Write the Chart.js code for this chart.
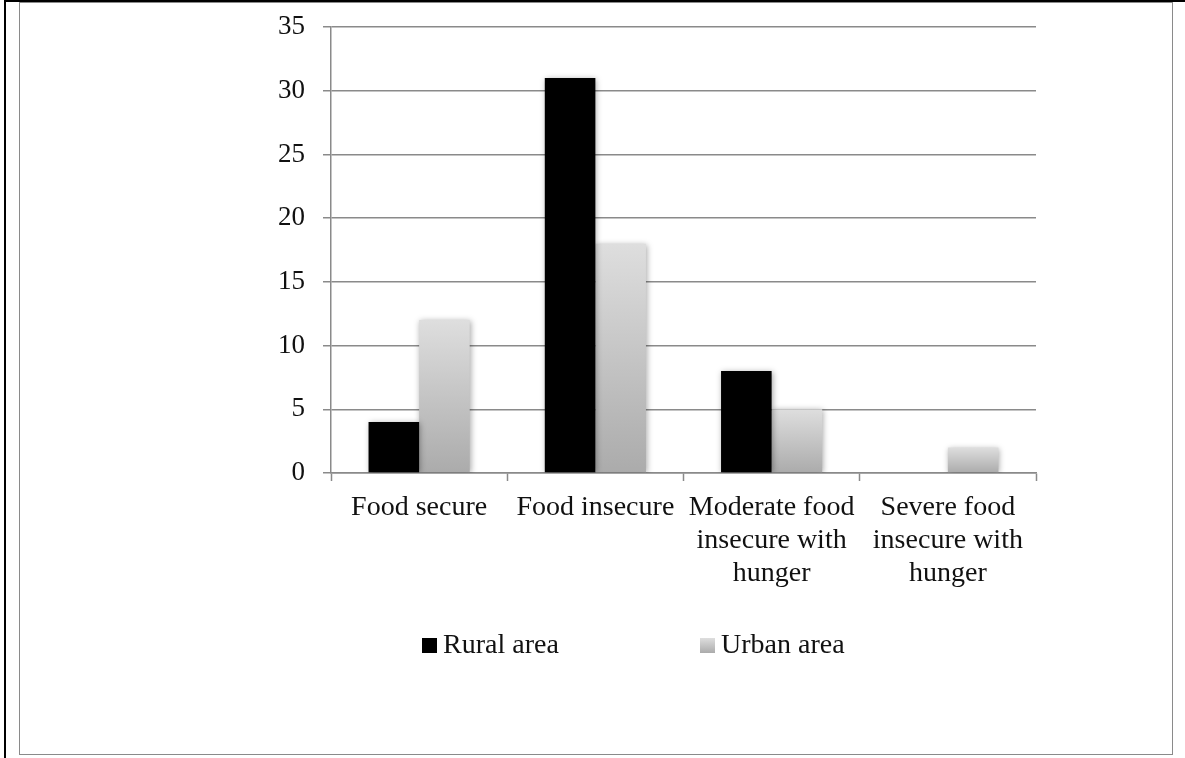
<!DOCTYPE html>
<html>
<head>
<meta charset="utf-8">
<script src="https://cdn.jsdelivr.net/npm/chart.js@4/dist/chart.umd.min.js"></script>
<style>
    html, body { margin: 0; padding: 0; background: #fff; }
    body { width: 1185px; height: 758px; position: relative; overflow: hidden; }
    .outer-line { position: absolute; left: 4px; top: 0; width: 1185px; height: 758px;
        border-left: 2px solid #000; border-top: 2px solid #000; box-sizing: border-box; }
    .frame { position: absolute; left: 19px; top: 2px; width: 1154px; height: 753px;
        border: 1.5px solid #8a8a8a; box-sizing: border-box; }
    #chart { position: absolute; left: 0; top: 0; }
</style>
</head>
<body>
<div class="outer-line"></div>
<div class="frame"></div>
<canvas id="chart" width="1185" height="758"></canvas>
<script>
// Chart data
const categories = [
    'Food secure',
    'Food insecure',
    ['Moderate food', 'insecure with', 'hunger'],
    ['Severe food', 'insecure with', 'hunger']
];
const seriesNames = ['Rural area', 'Urban area'];
const ruralValues = [4, 31, 8, 0];
const urbanValues = [12, 18, 5, 2];
const yTicks = [0, 5, 10, 15, 20, 25, 30, 35];

const FONT = "'Liberation Serif', 'Times New Roman', serif";
const gridColor = '#8a8a8a';

// Urban bars: light grey at the top fading darker toward the base, per bar
function urbanFill(ctx) {
    const chart = ctx.chart;
    const y = chart.scales.y;
    if (!y || ctx.parsed == null) return '#c8c8c8';
    const top = y.getPixelForValue(ctx.parsed.y);
    const base = y.getPixelForValue(0);
    if (!isFinite(top) || !isFinite(base) || top === base) return '#c8c8c8';
    const g = chart.ctx.createLinearGradient(0, top, 0, base);
    g.addColorStop(0, '#dedede');
    g.addColorStop(1, '#ababab');
    return g;
}

const barShadow = {
    id: 'barShadow',
    beforeDatasetsDraw(chart) {
        const c = chart.ctx;
        c.save();
        c.shadowColor = 'rgba(0,0,0,0.35)';
        c.shadowBlur = 6;
        c.shadowOffsetX = 1;
        c.shadowOffsetY = 1;
    },
    afterDatasetsDraw(chart) {
        chart.ctx.restore();
    }
};

// Legend drawn below the axis labels, spaced like the original
const areaLegend = {
    id: 'areaLegend',
    afterDraw(chart) {
        const c = chart.ctx;
        const area = chart.chartArea;
        const yMid = area.bottom + 172;
        const starts = [area.left + 91, area.left + 369];
        c.save();
        c.font = '28px ' + FONT;
        c.textBaseline = 'middle';
        c.textAlign = 'left';
        seriesNames.forEach((name, i) => {
            const x = starts[i];
            if (i === 0) {
                c.fillStyle = '#000';
            } else {
                const g = c.createLinearGradient(0, yMid - 7, 0, yMid + 8);
                g.addColorStop(0, '#dedede');
                g.addColorStop(1, '#ababab');
                c.fillStyle = g;
            }
            c.fillRect(x, yMid - 7, 15, 15);
            c.fillStyle = '#111';
            c.fillText(name, x + 21, yMid + 1);
        });
        c.restore();
    }
};

new Chart(document.getElementById('chart'), {
    type: 'bar',
    data: {
        labels: categories,
        datasets: [
            {
                label: seriesNames[0],
                data: ruralValues,
                backgroundColor: '#000000',
                borderWidth: 0
            },
            {
                label: seriesNames[1],
                data: urbanValues,
                backgroundColor: urbanFill,
                borderWidth: 0
            }
        ]
    },
    options: {
        responsive: false,
        animation: false,
        events: [],
        datasets: {
            bar: { barPercentage: 1, categoryPercentage: 0.574 }
        },
        layout: {
            padding: { left: 0, right: 149, top: 27, bottom: 0 }
        },
        plugins: {
            legend: { display: false },
            tooltip: { enabled: false }
        },
        scales: {
            x: {
                afterFit(scale) {
                    scale.height = 285;
                    scale.paddingLeft = 0;
                    scale.paddingRight = 0;
                },
                grid: {
                    drawOnChartArea: false,
                    drawTicks: true,
                    tickLength: 8,
                    tickColor: gridColor,
                    tickWidth: 1.5,
                    offset: true
                },
                border: { color: gridColor, width: 1.5 },
                ticks: {
                    color: '#111',
                    padding: 10,
                    maxRotation: 0,
                    autoSkip: false,
                    font: { family: FONT, size: 28, lineHeight: 1.18 }
                }
            },
            y: {
                min: 0,
                max: 35,
                afterFit(scale) {
                    scale.width = 331;
                    scale.paddingTop = 0;
                    scale.paddingBottom = 0;
                },
                afterBuildTicks(scale) {
                    scale.ticks = yTicks.map(v => ({ value: v }));
                },
                grid: {
                    color: gridColor,
                    lineWidth: 1.5,
                    tickLength: 8,
                    drawTicks: true
                },
                border: { color: gridColor, width: 1.5 },
                ticks: {
                    color: '#111',
                    padding: 18,
                    font: { family: FONT, size: 27 }
                }
            }
        }
    },
    plugins: [barShadow, areaLegend]
});
</script>
</body>
</html>
